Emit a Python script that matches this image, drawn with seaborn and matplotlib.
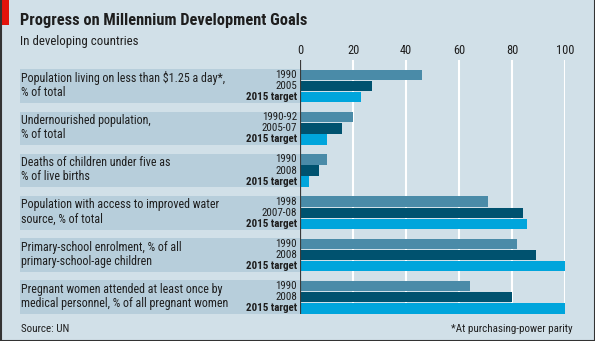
import matplotlib
matplotlib.use("Agg")
import matplotlib.pyplot as plt
import matplotlib.transforms as mtransforms
from matplotlib.patches import Rectangle
from matplotlib.lines import Line2D
from matplotlib import font_manager
import seaborn as sns
import pandas as pd

# ---------------- data ----------------
categories = [
    "Population living on less than $1.25 a day*,\n% of total",
    "Undernourished population,\n% of total",
    "Deaths of children under five as\n% of live births",
    "Population with access to improved water\nsource, % of total",
    "Primary-school enrolment, % of all\nprimary-school-age children",
    "Pregnant women attended at least once by\nmedical personnel, % of all pregnant women",
]
year_labels = [
    ["1990", "2005", "2015 target"],
    ["1990-92", "2005-07", "2015 target"],
    ["1990", "2008", "2015 target"],
    ["1998", "2007-08", "2015 target"],
    ["1990", "2008", "2015 target"],
    ["1990", "2008", "2015 target"],
]
series = ["Baseline", "Latest", "2015 target"]
baseline = [46, 20, 10, 71, 82, 64]
latest = [27, 16, 7, 84, 89, 80]
target = [23, 10, 3.3, 85.5, 100, 100]
xticks = [0, 20, 40, 60, 80, 100]

# ---------------- style ----------------
BG = "#d1e0e8"
BAND = "#b7cedb"
COLORS = ["#4a8ba8", "#00526f", "#00a5dc"]
TXT = "#1e1e1e"

sns.set_theme(style="white")


def pick_font(cands):
    for name in cands:
        try:
            font_manager.findfont(font_manager.FontProperties(family=name),
                                  fallback_to_default=False)
            return name
        except Exception:
            pass
    return "DejaVu Sans"


FONT = pick_font(["Roboto Condensed", "Liberation Sans Narrow", "Arial Narrow",
                  "Open Sans Condensed", "Lato", "Roboto"])
plt.rcParams["font.family"] = [FONT, "DejaVu Sans"]

W, H = 595, 341
fig = plt.figure(figsize=(W / 100, H / 100), dpi=100, facecolor=BG)
renderer = fig.canvas.get_renderer()


def fit_size(text, target_px, weight="normal"):
    t = fig.text(0, 0, text, fontsize=10, fontweight=weight)
    w = t.get_window_extent(renderer=renderer).width
    t.remove()
    return 10 * target_px / w


ax_left, ax_right, ax_top, ax_bot = 300, 565, 60, 314
ax = fig.add_axes([ax_left / W, (H - ax_bot) / H, (ax_right - ax_left) / W, (ax_bot - ax_top) / H])
ax.set_facecolor("none")

df = pd.DataFrame({
    "cat": [c for c in categories for _ in series],
    "series": series * len(categories),
    "value": [v for trio in zip(baseline, latest, target) for v in trio],
})

bw = 0.794
sns.barplot(data=df, y="cat", x="value", hue="series", hue_order=series,
            order=categories, palette=COLORS, saturation=1, width=bw,
            gap=0.06, orient="h", ax=ax, legend=False, linewidth=0, zorder=2)

fs_tick = min(fit_size("100", 18), 10)
fs_lab = fit_size("medical personnel, % of all pregnant women", 207)
fs_year = min(fit_size("2007-08", 38), 7.9)
fs_yearb = min(fit_size("2015 target", 56, "bold"), 7.9)
fs_title = fit_size("Progress on Millennium Development Goals", 287, "bold")
fs_sub = fit_size("In developing countries", 117)
fs_note = fit_size("*At purchasing-power parity", 120)

ax.set_xlim(0, 100)
ax.set_ylim(5 + bw / 2, -bw / 2 - 0.22)
ax.set_xlabel("")
ax.set_ylabel("")
ax.set_yticks([])
ax.xaxis.tick_top()
ax.set_xticks(xticks)
ax.set_xticklabels([str(t) for t in xticks], fontsize=fs_tick, color=TXT)
ax.tick_params(axis="x", length=0, pad=2)
for s in ax.spines.values():
    s.set_visible(False)
ax.grid(axis="x", color="white", lw=1.5, zorder=1)
ax.grid(axis="y", visible=False)
ax.set_axisbelow(True)
ax.axvline(0, color="#3a3a3a", lw=1.6, zorder=4)

axw = ax_right - ax_left
trans = mtransforms.blended_transform_factory(ax.transAxes, ax.transData)
x0 = (20 - ax_left) / axw
for i, cat in enumerate(categories):
    ax.add_patch(Rectangle((x0, i - bw / 2), -x0, bw, transform=trans,
                           facecolor=BAND, edgecolor="none", zorder=0, clip_on=False))
    ax.text(x0 + 1 / axw, i - 0.02, cat, transform=trans, ha="left", va="center",
            fontsize=fs_lab, color=TXT, linespacing=1.12, clip_on=False)
    step = bw / 3
    for j, yl in enumerate(year_labels[i]):
        bold = j == 2
        ax.text(-3 / axw, i + (j - 1) * step, yl, transform=trans, ha="right",
                va="center", fontsize=fs_yearb if bold else fs_year, color=TXT,
                fontweight="bold" if bold else "normal", clip_on=False)

# titles and notes
fig.text(20 / W, 1 - 21 / H, "Progress on Millennium Development Goals",
         fontsize=fs_title, fontweight="bold", color=TXT, ha="left", va="center")
fig.text(20 / W, 1 - 42 / H, "In developing countries", fontsize=fs_sub,
         color=TXT, ha="left", va="center")
fig.text(21 / W, 1 - 329 / H, "Source: UN", fontsize=fs_note, color=TXT,
         ha="left", va="center")
fig.text(573 / W, 1 - 329 / H, "*At purchasing-power parity", fontsize=fs_note,
         color=TXT, ha="right", va="center")

# red tag and frame
fig.add_artist(Rectangle((1 / W, 1 - 25 / H), 8 / W, 25 / H, transform=fig.transFigure,
                         facecolor="#e3120b", edgecolor="none"))
fc = "#333333"
fig.add_artist(Line2D([0.5 / W, 0.5 / W], [0, 1], transform=fig.transFigure, color=fc, lw=1.5))
fig.add_artist(Line2D([1 - 0.5 / W, 1 - 0.5 / W], [0, 1], transform=fig.transFigure, color=fc, lw=1.5))
fig.add_artist(Line2D([0, 1], [0.5 / H, 0.5 / H], transform=fig.transFigure, color=fc, lw=1.5))

fig.savefig("out.png", dpi=100, facecolor=BG)
